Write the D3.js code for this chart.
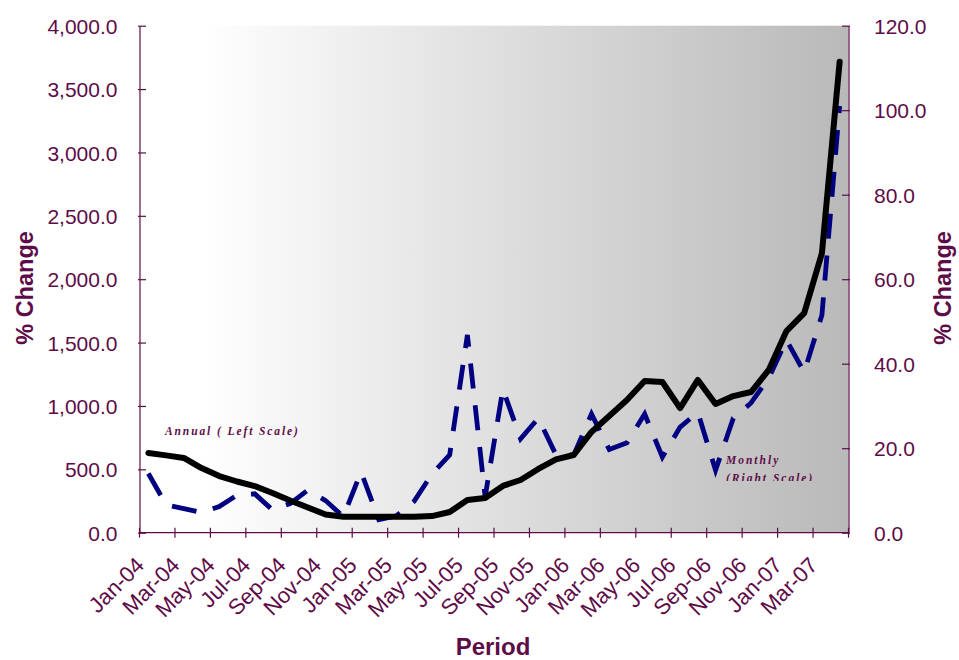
<!DOCTYPE html>
<html>
<head>
<meta charset="utf-8">
<script src="https://cdn.jsdelivr.net/npm/d3@7/dist/d3.min.js"></script>
<style>
  html, body { margin: 0; padding: 0; background: #ffffff; }
  svg { display: block; }
</style>
</head>
<body>
<svg id="chart" width="959" height="660"></svg>
<script>
// Months, Jan-04 .. Apr-07
const months = [
  "Jan-04","Feb-04","Mar-04","Apr-04","May-04","Jun-04","Jul-04","Aug-04","Sep-04","Oct-04","Nov-04","Dec-04",
  "Jan-05","Feb-05","Mar-05","Apr-05","May-05","Jun-05","Jul-05","Aug-05","Sep-05","Oct-05","Nov-05","Dec-05",
  "Jan-06","Feb-06","Mar-06","Apr-06","May-06","Jun-06","Jul-06","Aug-06","Sep-06","Oct-06","Nov-06","Dec-06",
  "Jan-07","Feb-07","Mar-07","Apr-07"
];

// Annual % change (left scale)
const annual = [
  629, 610, 590, 510, 447, 404, 368, 313, 254, 199, 144, 126,
  125, 125, 125, 125, 131, 163, 258, 274, 369, 416, 503, 578,
  613, 795, 920, 1047, 1197, 1189, 983, 1205, 1015, 1078, 1110, 1284,
  1591, 1733, 2205, 3716
];

// Monthly % change (right scale)
const monthly = [
  14.0, 6.6, 5.7, 4.8, 6.2, 8.9, 9.2, 5.4, 6.9, 10.1, 7.6, 3.8,
  14.4, 3.1, 4.0, 7.5, 13.9, 18.4, 46.8, 8.5, 34.0, 22.2, 27.1, 18.4,
  18.4, 28.1, 19.7, 21.3, 28.1, 17.9, 25.0, 28.5, 14.8, 27.1, 30.7, 36.6,
  45.6, 38.0, 51.5, 101.0
];

const leftTicks = [0, 500, 1000, 1500, 2000, 2500, 3000, 3500, 4000];
const rightTicks = [0, 20, 40, 60, 80, 100, 120];
const xTickLabels = months.filter((m, i) => i % 2 === 0);

const yTitle = "% Change";
const xTitle = "Period";
const annualNote = "Annual ( Left Scale)";
const monthlyNote = ["Monthly", "(Right Scale)"];

const INK = "#5e0c48";
const plot = { left: 139.5, right: 848.5, top: 25.7, bottom: 532.7 };

const svg = d3.select("#chart");

const x = d3.scaleBand().domain(months).range([plot.left, plot.right]).paddingInner(0).paddingOuter(0);
const cx = m => x(m) + x.bandwidth() / 2;
const yL = d3.scaleLinear().domain([0, 4000]).range([plot.bottom, plot.top]);
const yR = d3.scaleLinear().domain([0, 120]).range([plot.bottom, plot.top]);

// Plot area background: white fading to grey toward the right
const defs = svg.append("defs");
const grad = defs.append("linearGradient").attr("id", "bg")
  .attr("x1", "0%").attr("x2", "100%").attr("y1", "0%").attr("y2", "0%");
grad.append("stop").attr("offset", "8.5%").attr("stop-color", "#ffffff");
grad.append("stop").attr("offset", "100%").attr("stop-color", "#b9b9b9");

svg.append("rect")
  .attr("x", plot.left).attr("y", plot.top)
  .attr("width", plot.right - plot.left).attr("height", plot.bottom - plot.top)
  .attr("fill", "url(#bg)");

defs.append("clipPath").attr("id", "plotclip").append("rect")
  .attr("x", plot.left).attr("y", plot.top)
  .attr("width", plot.right - plot.left).attr("height", 481 - plot.top);

// Left axis
const gL = svg.append("g").attr("transform", `translate(${plot.left},0)`)
  .call(d3.axisLeft(yL).tickValues(leftTicks).tickFormat(d3.format(",.1f")).tickSizeOuter(0).tickPadding(16));
gL.select(".domain").attr("stroke", INK).attr("stroke-width", 1.2);
gL.selectAll(".tick line").attr("x1", -1.5).attr("x2", 6.5).attr("stroke", INK).attr("stroke-width", 1.2);
gL.selectAll(".tick text").attr("fill", INK).attr("font-family", "Liberation Sans, Arial, sans-serif")
  .attr("font-size", 21).attr("dy", "0.36em");

// Right axis
const gR = svg.append("g").attr("transform", `translate(${plot.right},0)`)
  .call(d3.axisRight(yR).tickValues(rightTicks).tickFormat(d3.format(".1f")).tickSizeOuter(0).tickPadding(19.5));
gR.select(".domain").attr("stroke", INK).attr("stroke-width", 1.2);
gR.selectAll(".tick line").attr("x1", -6.5).attr("x2", 1.5).attr("stroke", INK).attr("stroke-width", 1.2);
gR.selectAll(".tick text").attr("fill", INK).attr("font-family", "Liberation Sans, Arial, sans-serif")
  .attr("font-size", 21).attr("dy", "0.36em");

// Bottom axis: ticks between every second month, labels under odd months
const boundaries = d3.range(0, months.length + 1, 2).map(i => plot.left + i * x.bandwidth());
const gX = svg.append("g");
gX.append("line")
  .attr("x1", plot.left).attr("x2", plot.right)
  .attr("y1", plot.bottom).attr("y2", plot.bottom)
  .attr("stroke", INK).attr("stroke-width", 1.2);
gX.selectAll("line.tk").data(boundaries).join("line").attr("class", "tk")
  .attr("x1", d => d).attr("x2", d => d)
  .attr("y1", plot.bottom - 5).attr("y2", plot.bottom + 5)
  .attr("stroke", INK).attr("stroke-width", 1.2);
gX.selectAll("text").data(xTickLabels).join("text")
  .attr("transform", d => `translate(${cx(d) - 3},${plot.bottom + 34}) rotate(-45)`)
  .attr("text-anchor", "end")
  .attr("fill", INK)
  .attr("font-family", "Liberation Sans, Arial, sans-serif")
  .attr("font-size", 22)
  .text(d => d);

// Series lines
const annualLine = d3.line().x((d, i) => cx(months[i])).y(d => yL(d));
const monthlyLine = d3.line().x((d, i) => cx(months[i])).y(d => yR(d));

svg.append("path").datum(monthly)
  .attr("d", monthlyLine)
  .attr("fill", "none").attr("stroke", "#000080")
  .attr("stroke-width", 4.8).attr("stroke-dasharray", "25,17");

svg.append("path").datum(annual)
  .attr("d", annualLine)
  .attr("fill", "none").attr("stroke", "#000000")
  .attr("stroke-width", 6).attr("stroke-linejoin", "round").attr("stroke-linecap", "round");

// Series notes
const noteFont = "Liberation Serif, Times New Roman, serif";
svg.append("text")
  .attr("x", 165).attr("y", 435)
  .attr("fill", INK).attr("font-family", noteFont).attr("font-style", "italic").attr("font-weight", "bold")
  .attr("font-size", 11.5).attr("letter-spacing", 1.9)
  .text(annualNote);

const mg = svg.append("g").attr("clip-path", "url(#plotclip)");
mg.selectAll("text").data(monthlyNote).join("text")
  .attr("x", 726).attr("y", (d, i) => 464 + i * 18)
  .attr("fill", INK).attr("font-family", noteFont).attr("font-style", "italic").attr("font-weight", "bold")
  .attr("font-size", 11.5).attr("letter-spacing", 2)
  .text(d => d);

// Axis titles
const titleFont = "Liberation Sans, Arial, sans-serif";
svg.append("text")
  .attr("transform", "translate(33,288) rotate(-90)")
  .attr("text-anchor", "middle").attr("fill", INK)
  .attr("font-family", titleFont).attr("font-weight", "bold").attr("font-size", 23.5)
  .text(yTitle);
svg.append("text")
  .attr("transform", "translate(951,288) rotate(-90)")
  .attr("text-anchor", "middle").attr("fill", INK)
  .attr("font-family", titleFont).attr("font-weight", "bold").attr("font-size", 23.5)
  .text(yTitle);
svg.append("text")
  .attr("x", 493).attr("y", 655)
  .attr("text-anchor", "middle").attr("fill", INK)
  .attr("font-family", titleFont).attr("font-weight", "bold").attr("font-size", 24)
  .text(xTitle);
</script>
</body>
</html>
